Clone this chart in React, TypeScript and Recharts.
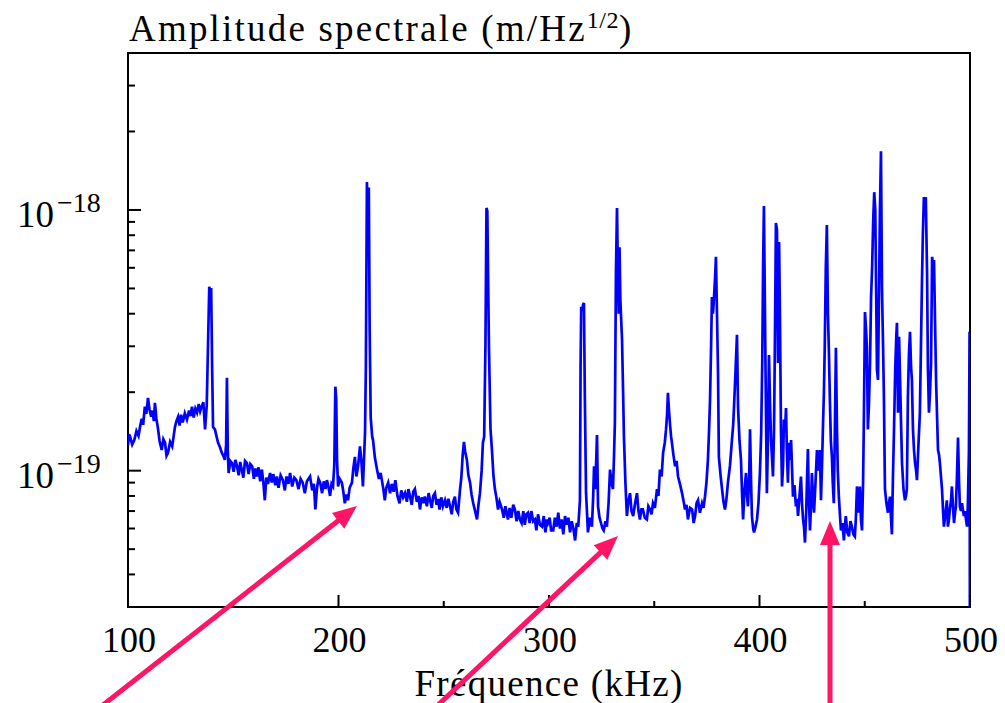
import React from 'react';
import { LineChart, Line, XAxis, YAxis, ReferenceArea } from 'recharts';

// spectrum: [frequency kHz, amplitude in 1e-20 m/Hz^1/2]
const band100: [number, number][] = [
  [100, 12.5], [100.5, 13.8], [101, 13.5], [102, 12.6], [103, 13.1], [104, 14.2], [105, 13.6], [105.7, 14.7],
  [106.5, 15.8], [107.2, 15.0], [108, 17.6], [108.7, 16.5], [109.5, 19.0], [110.2, 17.2], [111, 16.1], [111.6, 17.0],
  [112.3, 15.5], [112.8, 18.2], [113.5, 15.8], [114.3, 14.4], [115, 13.0], [116, 12.0], [116.8, 13.2], [117.6, 12.8],
  [118.3, 11.4], [119, 11.7], [120, 12.9], [121, 12.4], [121.7, 13.6], [122.3, 14.7], [123, 15.5], [123.8, 16.1],
  [124.5, 14.9], [125.2, 16.4], [126, 15.3], [127, 16.6], [128, 15.7], [129, 17.0], [129.7, 16.2], [130.4, 17.6],
  [131.2, 16.0], [132, 17.3], [132.8, 16.7], [133.6, 18.0], [134.3, 16.9], [135, 17.6], [135.8, 18.3], [136.6, 14.4],
  [137.4, 17.8], [138, 30], [138.6, 50.7], [139.1, 48.5], [139.5, 50.2], [140, 24], [140.4, 14.7], [141.3, 14.4],
  [142, 13.6], [142.8, 12.8], [143.7, 12.3], [144.6, 11.7], [145.3, 11.4], [146, 11.0], [146.6, 12.5], [147, 22.7],
  [147.4, 12], [147.8, 9.8], [148.6, 10.9], [149.4, 10.7],
];

const band150: [number, number][] = [
  [150.2, 9.9], [151, 11.0], [151.8, 10.4], [152.6, 9.6], [153.3, 10.8], [154, 10.1], [154.8, 9.4], [155.6, 10.9],
  [156.5, 10.7], [157.3, 9.7], [158.1, 10.6], [159, 10.4], [159.8, 9.3], [160.5, 10.2], [161.2, 9.5], [162, 10.3],
  [162.8, 9.1], [163.6, 10.1], [164.3, 9.0], [165, 7.7], [165.7, 9.4], [166.5, 8.9], [167.5, 9.8], [168.3, 9.0],
  [169, 9.7], [170, 8.8], [170.7, 9.5], [171.5, 8.6], [172.5, 9.6], [173.6, 9.2], [174.5, 8.4], [175.3, 9.5],
  [176.2, 8.9], [177, 9.8], [178, 8.7], [179, 9.4], [180, 9.2], [181, 8.5], [182, 9.3], [183, 9.0],
  [184, 8.2], [185, 9.1], [186.5, 9.5], [187.5, 8.4], [188.3, 8.9], [189, 7.1], [189.8, 8.6], [190.5, 9.3],
  [191.3, 9.0], [192.2, 8.2], [193, 9.1], [193.8, 8.5], [194.5, 9.2], [195.3, 8.6], [196, 8.0], [196.7, 8.9],
  [197.4, 8.7], [198, 10.5], [198.5, 21.0], [198.9, 19.0], [199.3, 11], [199.8, 8.7],
];

const band200: [number, number][] = [
  [200.6, 9.3], [201.6, 9.0], [202.3, 8.3], [203, 7.5], [203.8, 8.1], [204.5, 7.7], [205.3, 8.6], [206.4, 9.0],
  [207.1, 10.3], [207.8, 11.3], [208.5, 9.5], [209.3, 10.4], [210.2, 12.4], [210.9, 10.8], [211.6, 8.7], [212.2, 11.5],
  [212.6, 14.0], [213, 25], [213.5, 128], [213.9, 85], [214.1, 70.3], [214.4, 122], [214.8, 35], [215.3, 16],
  [216, 13.5], [216.4, 13.1], [217.3, 11.2], [218.3, 10.1], [219.2, 9.3], [220, 9.8], [220.6, 9.2], [221.3, 8.5],
  [222, 7.7], [222.7, 8.6], [223.6, 9.0], [224.5, 8.2], [225.3, 8.9], [226.2, 8.3], [227, 9.2], [228, 8.0],
  [229, 7.5], [229.8, 8.4], [230.7, 7.9], [231.6, 8.2], [232.5, 7.6], [233.2, 8.5], [234, 7.95], [234.8, 7.4],
  [235.5, 8.3], [236.3, 8.5], [237.2, 7.6], [238, 8.0], [238.7, 7.1], [239.5, 7.9], [240.3, 7.5], [241, 7.95],
  [242, 7.3], [242.8, 8.2], [243.5, 7.7], [244.3, 7.2], [245, 8.0], [245.8, 8.2], [246.6, 7.4], [247.3, 7.8],
  [248, 7.1], [248.8, 7.9], [249.6, 7.3],
];

const band250: [number, number][] = [
  [250.6, 7.7], [251.4, 7.2], [252.2, 7.8], [253, 7.3], [253.8, 6.8], [254.5, 7.6], [255.3, 7.95], [256, 7.1],
  [256.8, 6.9], [257.7, 8.4], [258.4, 9.5], [259, 11.5], [259.6, 12.9], [260.2, 11.8], [261, 11.0], [261.7, 9.6],
  [262.5, 9.0], [263.2, 8.1], [264, 7.5], [264.9, 7.0], [265.8, 6.5], [266.5, 7.4], [267.2, 8.2], [268, 10.0],
  [268.6, 12.8], [269.2, 13.5], [269.8, 30], [270.3, 101.8], [270.7, 99], [271.2, 45], [271.5, 29.1], [272.2, 14.5],
  [272.9, 12.0], [273.6, 9.6], [274.3, 8.5], [275, 7.9], [275.8, 7.1], [276.5, 7.6], [277.7, 7.1], [278.5, 6.6],
  [279.3, 7.3], [280.5, 6.5], [281.3, 7.2], [282.1, 6.6], [283, 7.4], [283.8, 7.1], [284.6, 6.4], [285.4, 7.0],
  [286.2, 6.5], [287, 6.3], [287.8, 7.0], [288.5, 6.2], [289.2, 6.8], [290, 6.9], [290.8, 6.3], [291.6, 7.0],
  [292.5, 6.4], [293.3, 6.5], [294, 5.9], [294.8, 6.8], [295.7, 6.2], [296.7, 6.1], [297.5, 6.7], [298.3, 5.8],
  [299, 6.5], [299.5, 6.3],
];

const band300: [number, number][] = [
  [300.3, 6.6], [301, 5.9], [302, 5.9], [302.8, 6.6], [303.6, 6.1], [304.4, 6.9], [305.2, 6.0], [306, 6.5],
  [306.8, 5.7], [307.6, 6.7], [308.4, 6.2], [309.2, 6.6], [310, 5.8], [310.8, 6.4], [311.6, 6.0], [312.4, 5.4],
  [313.2, 6.3], [313.9, 6.1], [314.7, 7.7], [315, 25], [315.3, 42.5], [315.8, 41], [316.2, 43.3], [316.6, 44],
  [317, 20], [317.6, 8.2], [318.5, 5.8], [319.4, 6.6], [320.4, 6.1], [321, 8.0], [321.4, 10.4], [322, 8.5],
  [322.8, 13.7], [323.3, 7.3], [324, 6.6], [324.7, 6.3], [325.4, 6.0], [326, 5.9], [326.8, 6.4], [327.5, 6.1],
  [328.3, 7.5], [329, 10.1], [329.7, 9.0], [330.4, 8.5], [330.9, 11.5], [331.3, 15.3], [331.8, 57.4], [332.3, 101.8],
  [332.7, 60], [333.1, 40], [333.5, 72], [333.9, 45], [334.7, 31.8], [335.2, 20], [335.6, 13.5], [336.3, 9.0],
  [337, 6.7], [337.7, 7.6], [338.5, 8.2], [339.2, 7.0], [340, 6.7], [340.9, 7.5], [341.8, 8.2], [342.5, 7.0],
  [343.2, 6.5], [343.9, 7.1], [344.6, 7.1], [345.5, 6.6], [346.5, 6.5], [347.2, 7.3], [348, 7.1], [348.7, 6.8],
  [349.4, 7.5],
];

const band350: [number, number][] = [
  [350.3, 7.2], [351.3, 8.5], [352, 8.0], [352.7, 10.1], [353.5, 9.5], [354.2, 11.7], [355, 12.8], [355.6, 14.4],
  [356.1, 16.5], [356.5, 19.9], [357, 17.0], [357.5, 15.0], [358, 13.5], [358.4, 12.8], [359.1, 11.5], [359.9, 10.4],
  [360.6, 10.9], [361.3, 9.5], [362.2, 8.9], [363.2, 8.2], [364, 7.6], [364.6, 7.1], [365.3, 7.4], [366, 6.5],
  [367, 7.2], [368, 7.1], [368.7, 6.3], [369.4, 6.7], [370.1, 7.5], [370.8, 7.7], [371.7, 6.9], [372.7, 7.5],
  [373.4, 7.2], [374.1, 7.95], [374.8, 9.0], [375.5, 11.0], [376, 14], [376.5, 18.7], [377, 30], [377.4, 46.4],
  [377.9, 40], [378.4, 46.4], [378.9, 55], [379.3, 66.1], [379.8, 40], [380.3, 23.7], [380.7, 11.3], [381.5, 9.6],
  [382.2, 8.5], [382.9, 7.6], [383.6, 7.1], [384.3, 7.8], [385, 9.0], [386, 10.5], [386.9, 13.1], [387.5, 15.0],
  [387.9, 17.6], [388.6, 24], [389.3, 33.2], [389.8, 17.6], [390.5, 13], [391.2, 11.0], [391.7, 8.2], [392.2, 6.5],
  [392.9, 8.5], [393.6, 9.8], [394.1, 8.0], [394.5, 7.3], [395.1, 9.5], [395.5, 14.4], [396, 9.0], [396.4, 6.7],
  [397, 6.0], [397.4, 5.8], [398.1, 6.1], [398.8, 6.5], [399.5, 7.5],
];

const band400: [number, number][] = [
  [400.2, 9.8], [400.8, 14], [401.3, 25.9], [401.7, 60], [402.1, 103.6], [402.6, 40], [403, 19.2], [403.5, 8.2],
  [404, 13], [404.5, 27.8], [405, 18], [405.5, 13.1], [406, 11], [406.4, 9.5], [406.9, 14.4], [407.3, 30],
  [407.8, 89.2], [408.3, 83.8], [408.8, 25.9], [409.3, 75.4], [409.7, 40], [410.2, 14.4], [410.7, 8.7], [411.2, 10.5],
  [411.6, 15.7], [412.1, 14], [412.6, 17.4], [413, 12], [413.5, 9.0], [414, 12.8], [414.5, 11], [415, 13.1],
  [415.5, 10], [415.9, 7.95], [416.6, 8.8], [417.3, 7.3], [417.8, 7.8], [418.3, 6.7], [419, 8.0], [419.7, 9.5],
  [420.2, 7.5], [420.7, 6.5], [421.2, 6.0], [421.6, 5.3], [422.2, 7.0], [422.6, 9.5], [423, 12.1], [423.4, 8.0],
  [424, 5.9], [424.5, 7.5], [424.9, 9.8], [425.4, 8.0], [425.9, 6.9], [426.6, 9.0], [427.3, 12.0], [427.8, 10.0],
  [428.2, 10.7], [428.7, 12.0], [429.2, 7.7], [429.7, 10.5], [430.2, 15.3], [430.6, 20], [431, 29.9], [431.5, 60],
  [432, 87.6], [432.5, 40.3], [433, 28], [433.4, 19.2], [433.9, 13], [434.4, 11.3], [434.8, 9.0], [435.3, 7.5],
  [435.8, 14], [436.3, 29.6], [436.8, 14.4], [437.2, 10], [437.7, 7.95], [438.2, 6.8], [438.7, 5.9], [439.4, 6.3],
  [440.1, 5.4], [440.6, 6.2], [441, 6.7], [441.7, 5.8], [442.5, 5.6], [443.2, 6.4], [443.9, 6.1], [444.6, 5.7],
  [445.3, 5.6], [445.8, 6.6], [446.3, 8.7], [446.8, 7.5], [447.2, 6.9], [447.7, 8.7], [448.2, 6.5], [448.7, 5.9],
  [449.2, 9.0], [449.6, 16.1],
];

const band450: [number, number][] = [
  [450.1, 40.6], [450.6, 35], [451, 29.9], [451.5, 14.4], [452, 18], [452.5, 25.9], [453, 46.4], [453.5, 60],
  [454, 90], [454.5, 117], [455, 100], [455.4, 50], [455.8, 24.4], [456.3, 22.3], [456.8, 50], [457.2, 97.4],
  [457.7, 168], [458.2, 49.4], [458.7, 30], [459.1, 19.2], [459.6, 8.5], [460.3, 7.5], [461, 6.9], [461.5, 7.5],
  [462, 7.95], [462.5, 6.5], [462.9, 5.7], [463.4, 9.5], [463.9, 14.4], [464.5, 25], [465, 33], [465.3, 36.9],
  [465.8, 16.7], [466.3, 32.6], [466.8, 22], [467.2, 15.7], [467.7, 10.7], [468.4, 8.5], [469.1, 7.7], [469.6, 8.0],
  [470, 8.5], [470.5, 19.2], [471, 28], [471.5, 34.1], [472, 25], [472.4, 22.3], [472.9, 14.4], [473.4, 12],
  [473.9, 10.7], [474.4, 10], [474.8, 9.2], [475.5, 12.5], [476.2, 16.7], [476.7, 30], [477.2, 53.9], [477.6, 80],
  [478.1, 112], [478.5, 105], [479, 112], [479.6, 57.4], [480, 25], [480.5, 16.7], [481, 20], [481.5, 25.9],
  [482, 66.1], [482.5, 60], [482.9, 64.3], [483.4, 36.9], [483.9, 22], [484.3, 16.7], [484.8, 12.0], [485.3, 11.5],
  [485.7, 10.7], [486.2, 9.5], [486.7, 8.5], [487.2, 7.0], [487.6, 6.1], [488.3, 6.8], [489, 7.7], [489.5, 6.1],
  [490, 6.5], [490.5, 7.2], [491, 7.7], [491.4, 8.7], [491.9, 7.3], [492.4, 6.3], [492.9, 6.9], [493.3, 7.3],
  [493.8, 9.5], [494.3, 13.4], [494.8, 9.0], [495.2, 7.3], [495.7, 7.0], [496.2, 7.5], [496.7, 7.0], [497.1, 6.7],
  [497.6, 7.0], [498.1, 6.5], [498.6, 6.1], [499, 7.5], [499.5, 12], [499.8, 34.1], [500, 1],
];

const xTicks = [100, 150, 200, 250, 300, 350, 400, 450, 500];
const yTicks = [
  4e-20, 5e-20, 6e-20, 7e-20, 8e-20, 9e-20,
  1e-19, 2e-19, 3e-19, 4e-19, 5e-19, 6e-19, 7e-19, 8e-19, 9e-19,
  1e-18, 2e-18, 3e-18,
];

const data = [band100, band150, band200, band250, band300, band350, band400, band450]
  .flat()
  .map(([f, v]) => ({ f, a: v * 1e-20 }));

const W = 1005;
const H = 703;
const PL = 128, PR = 970, PT = 53, PB = 607;
const Y_AXIS_W = 60;
const X_AXIS_H = 40;
const FONT = "'Liberation Serif', 'Times New Roman', serif";
const PINK = '#ff1466';

const isDecade = (v: number) => Math.abs(Math.log10(v) - Math.round(Math.log10(v))) < 1e-6;

const YTick = (props: any) => {
  const { y, payload } = props;
  const major = isDecade(payload.value);
  const exp = Math.abs(Math.round(Math.log10(payload.value)));
  return (
    <g>
      <line x1={PL} x2={PL + (major ? 13 : 7)} y1={y} y2={y} stroke="#000" strokeWidth={2} />
      {major && (
        <g>
          <text x={17} y={y + 17} fontFamily={FONT} fontSize={37} fill="#000">10</text>
          <text x={57} y={y + 2} fontFamily={FONT} fontSize={28} fill="#000">{'\u2212' + exp}</text>
        </g>
      )}
    </g>
  );
};

const XTick = (props: any) => {
  const { x, payload } = props;
  const major = payload.value % 100 === 0;
  return (
    <g>
      <line x1={x} x2={x} y1={PB} y2={PB - (major ? 12 : 6)} stroke="#000" strokeWidth={2} />
      {major && (
        <text x={x + 1} y={652} textAnchor="middle" fontFamily={FONT} fontSize={36} fill="#000">
          {payload.value}
        </text>
      )}
    </g>
  );
};

// annotation arrows (tail -> tip), in page pixels
const arrows = [
  { x1: 103, y1: 705, x2: 357, y2: 506 },
  { x1: 438, y1: 705, x2: 618, y2: 536 },
  { x1: 830, y1: 705, x2: 830, y2: 521 },
];

const Arrow = ({ x1, y1, x2, y2 }: { x1: number; y1: number; x2: number; y2: number }) => {
  const dx = x2 - x1, dy = y2 - y1;
  const len = Math.hypot(dx, dy);
  const ux = dx / len, uy = dy / len;
  const hl = 24, hw = 10;
  const bx = x2 - ux * hl, by = y2 - uy * hl;
  const pts = `${x2},${y2} ${bx - uy * hw},${by + ux * hw} ${bx + uy * hw},${by - ux * hw}`;
  return (
    <g>
      <line x1={x1} y1={y1} x2={bx + ux * 2} y2={by + uy * 2} stroke={PINK} strokeWidth={5} />
      <polygon points={pts} fill={PINK} />
    </g>
  );
};

export default function App() {
  return (
    <div style={{ position: 'absolute', left: 0, top: 0, width: W, height: H, background: '#fff' }}>
      <LineChart
        width={W}
        height={H}
        data={data}
        margin={{ top: PT, right: W - PR, bottom: H - PB - X_AXIS_H, left: PL - Y_AXIS_W }}
      >
        <XAxis
          dataKey="f"
          type="number"
          domain={[100, 500]}
          ticks={xTicks}
          interval={0}
          height={X_AXIS_H}
          axisLine={false}
          tickLine={false}
          tick={XTick}
          allowDataOverflow
        />
        <YAxis
          type="number"
          scale="log"
          domain={[3e-20, 4e-18]}
          ticks={yTicks}
          interval={0}
          width={Y_AXIS_W}
          axisLine={false}
          tickLine={false}
          tick={YTick}
          allowDataOverflow
        />
        <ReferenceArea x1={100} x2={500} y1={3e-20} y2={4e-18} fill="none" fillOpacity={0} stroke="#000" strokeWidth={2} />
        <Line
          dataKey="a"
          type="linear"
          stroke="#0000ff"
          strokeWidth={2.7}
          dot={false}
          activeDot={false}
          isAnimationActive={false}
        />
      </LineChart>
      <svg width={W} height={H} style={{ position: 'absolute', left: 0, top: 0, pointerEvents: 'none' }}>
        <text x={129} y={41} fontFamily={FONT} fontSize={37} letterSpacing={2.2} fill="#000">
          Amplitude spectrale (m/Hz
          <tspan dy={-13} fontSize={24} letterSpacing={0.5}>1/2</tspan>
          <tspan dy={13}>)</tspan>
        </text>
        <text x={549} y={696} textAnchor="middle" fontFamily={FONT} fontSize={37} letterSpacing={1.3} fill="#000">
          Fréquence (kHz)
        </text>
        {arrows.map((a, i) => (
          <Arrow key={i} {...a} />
        ))}
      </svg>
    </div>
  );
}
